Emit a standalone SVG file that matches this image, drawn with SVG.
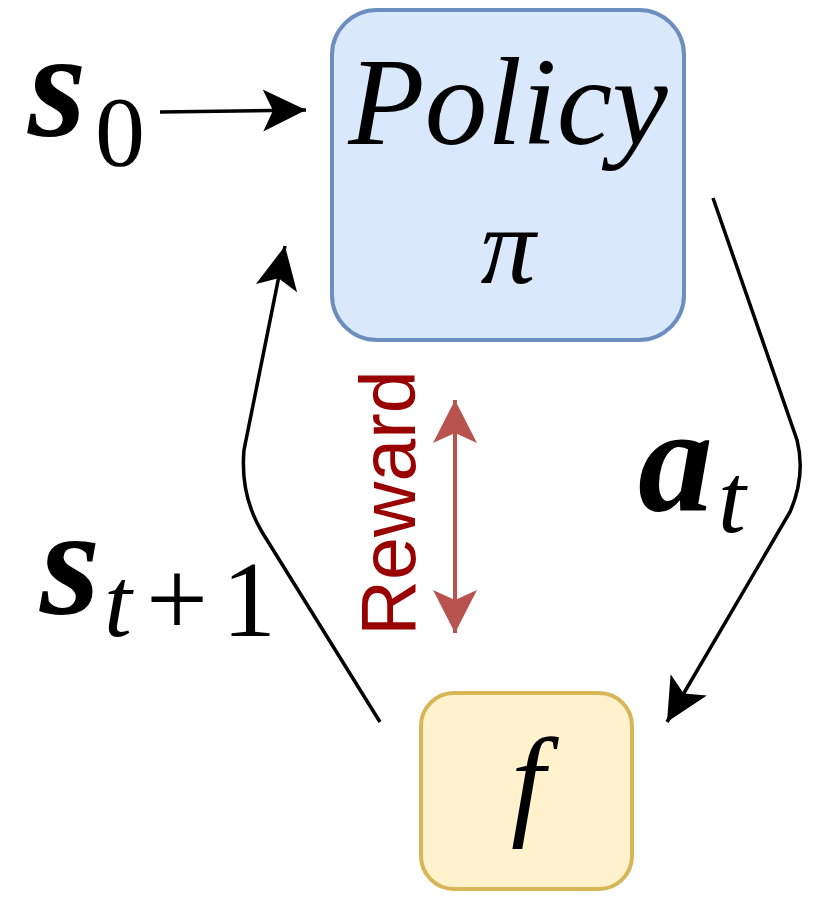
<svg xmlns="http://www.w3.org/2000/svg" width="830" height="921" viewBox="0 0 830 921">
<style>
.math{font-family:"Liberation Serif","DejaVu Serif",serif;font-style:italic;fill:#000}
.b{font-weight:bold}
.up{font-style:normal}
.conn{fill:none;stroke:#000;stroke-width:3.5}
.rew{fill:none;stroke:#b85450;stroke-width:4}
</style>
<defs>
<marker id="ab" markerUnits="userSpaceOnUse" markerWidth="50" markerHeight="50" viewBox="-45 -25 50 50" refX="0" refY="0" orient="auto">
<path d="M0,0 L-43,-21 L-33,0 L-43,21 Z" fill="#000"/>
</marker>
<marker id="ar" markerUnits="userSpaceOnUse" markerWidth="50" markerHeight="50" viewBox="-45 -25 50 50" refX="0" refY="0" orient="auto-start-reverse">
<path d="M0,0 L-43,-22 L-33,0 L-43,22 Z" fill="#b85450"/>
</marker>
</defs>
<g id="connectors">
<path class="conn" d="M160,112 L306,110" marker-end="url(#ab)"/>
<path class="conn" d="M713,198 L797,440 Q806,475 790,512 L667,722" marker-end="url(#ab)"/>
<path class="conn" d="M380,722 L262,532 Q240,495 244,450 L285,246" marker-end="url(#ab)"/>
<path class="rew" d="M455,400 L455,633" marker-start="url(#ar)" marker-end="url(#ar)"/>
</g>
<g id="policy">
<rect x="332" y="10" width="352" height="330" rx="45" ry="45" fill="#dae8fc" stroke="#6c8ebf" stroke-width="4"/>
<text class="math" x="508" y="144" font-size="125" text-anchor="middle">Policy</text>
<text class="math" x="508" y="283" font-size="110" text-anchor="middle">π</text>
</g>
<g id="f">
<rect x="421" y="693" width="211" height="196" rx="33" ry="33" fill="#fff2cc" stroke="#d6b656" stroke-width="4"/>
<text class="math" x="528" y="823" font-size="122" text-anchor="middle">f</text>
</g>
<g id="s0">
<text class="math b" x="28" y="136" font-size="150">s</text>
<text class="math up" x="95" y="165" font-size="100">0</text>
</g>
<g id="at">
<text class="math b" x="638" y="510" font-size="150">a</text>
<text class="math" x="718" y="532" font-size="100">t</text>
</g>
<g id="st1">
<text class="math b" x="40" y="613" font-size="155">s</text>
<text class="math" x="104" y="636" font-size="100">t</text>
<text class="math up" x="146" y="636" font-size="110">+</text>
<text class="math up" x="222" y="636" font-size="108">1</text>
</g>
<g id="reward">
<text x="0" y="0" transform="translate(415,503) rotate(-90)" font-family="Liberation Sans, Arial, sans-serif" font-size="77" fill="#990000" text-anchor="middle">Reward</text>
</g>
</svg>
